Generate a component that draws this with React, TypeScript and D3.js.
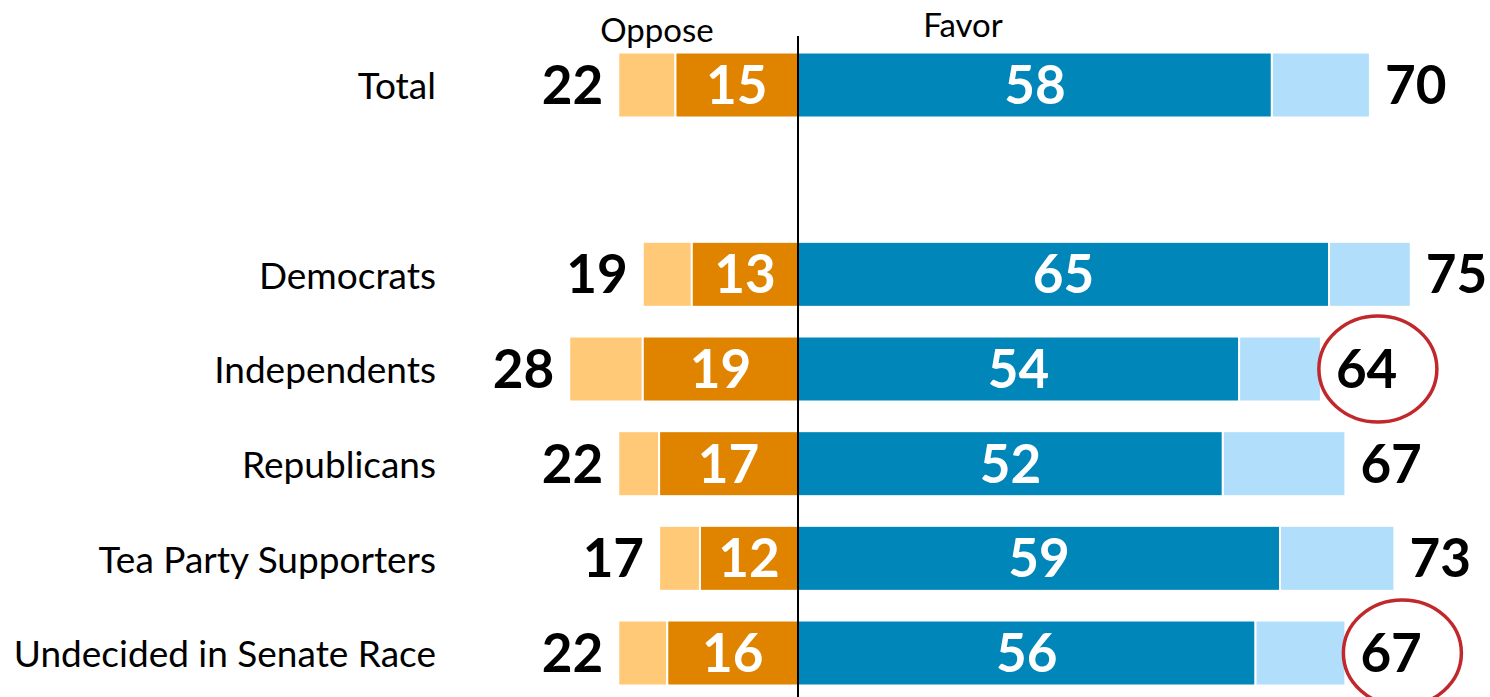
import React from "react";
import * as d3 from "d3";

const categories = ["Total", "", "Democrats", "Independents", "Republicans", "Tea Party Supporters", "Undecided in Senate Race"];
const opposeStrong = [15, null, 13, 19, 17, 12, 16];
const opposeTotal = [22, null, 19, 28, 22, 17, 22];
const favorStrong = [58, null, 65, 54, 52, 59, 56];
const favorTotal = [70, null, 75, 64, 67, 73, 67];
const circled = [false, false, false, true, false, false, true];

const W = 1490;
const H = 697;
const COLORS = {
  opposeDark: "#E08400",
  opposeLight: "#FFC978",
  favorDark: "#0086B8",
  favorLight: "#B0DEFB",
  circle: "#C0282B",
};
const FONT = "Lato, 'Open Sans', sans-serif";

export default function App() {
  const x = d3.scaleLinear().domain([0, 80]).range([798, 798 + 80 * 8.17]);
  const xo = (v: number) => 2 * x(0) - x(v);
  const slots = categories.map((_, i) => String(i));
  const y = d3.scalePoint<string>().domain(slots).range([85, 653]);
  const barH = 65;

  return (
    <svg width={W} height={H} style={{ position: "absolute", left: 0, top: 0, background: "#fff" }}>
      <text x={657} y={42} fontFamily={FONT} fontSize={33} textAnchor="middle" fill="#000">Oppose</text>
      <text x={963} y={37} fontFamily={FONT} fontSize={33} textAnchor="middle" fill="#000">Favor</text>
      {categories.map((c, i) => {
        if (opposeTotal[i] == null) return null;
        const cy = y(String(i)) as number;
        const top = cy - barH / 2;
        const os = opposeStrong[i] as number;
        const ot = opposeTotal[i] as number;
        const fs = favorStrong[i] as number;
        const ft = favorTotal[i] as number;
        return (
          <g key={c}>
            <text x={436} y={cy + 1} dy="0.36em" textAnchor="end" fontFamily={FONT} fontSize={37} fill="#000">{c}</text>
            <rect x={xo(ot)} y={top} width={xo(os) - xo(ot)} height={barH} fill={COLORS.opposeLight} stroke="#fff" strokeWidth={2} />
            <rect x={xo(os)} y={top} width={x(0) - xo(os)} height={barH} fill={COLORS.opposeDark} stroke="#fff" strokeWidth={2} />
            <rect x={x(0)} y={top} width={x(fs) - x(0)} height={barH} fill={COLORS.favorDark} stroke="#fff" strokeWidth={2} />
            <rect x={x(fs)} y={top} width={x(ft) - x(fs)} height={barH} fill={COLORS.favorLight} stroke="#fff" strokeWidth={2} />
            <text x={(xo(os) + x(0)) / 2} y={cy} dy="0.36em" textAnchor="middle" fontFamily={FONT} fontWeight={700} fontSize={53} fill="#fff">{os}</text>
            <text x={(x(fs) + x(0)) / 2} y={cy} dy="0.36em" textAnchor="middle" fontFamily={FONT} fontWeight={700} fontSize={53} fill="#fff">{fs}</text>
            <text x={xo(ot) - 15} y={cy} dy="0.36em" textAnchor="end" fontFamily={FONT} fontWeight={700} fontSize={53} fill="#000">{ot}</text>
            <text x={x(ft) + 15} y={cy} dy="0.36em" textAnchor="start" fontFamily={FONT} fontWeight={700} fontSize={53} fill="#000">{ft}</text>
            {circled[i] && (
              <ellipse cx={x(ft) + 15 + 42} cy={cy} rx={59} ry={53} fill="none" stroke={COLORS.circle} strokeWidth={3.5} />
            )}
          </g>
        );
      })}
      <line x1={x(0)} x2={x(0)} y1={36} y2={H} stroke="#000" strokeWidth={2} />
    </svg>
  );
}
